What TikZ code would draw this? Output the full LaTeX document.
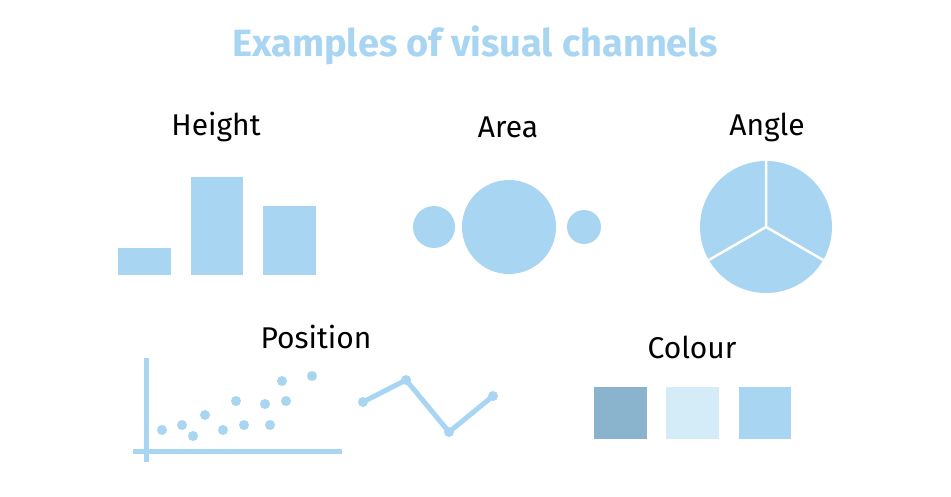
\documentclass[tikz,border=0pt]{standalone}
\usepackage{fontspec}
\setmainfont{Fira Sans}
\definecolor{cb}{HTML}{A8D5F2}
\definecolor{cdark}{HTML}{8AB4CE}
\definecolor{clight}{HTML}{D4ECF8}
\begin{document}
\begin{tikzpicture}[x=1pt,y=-1pt,
  lbl/.style={font=\fontsize{30}{32}\selectfont,text=black},
  dot/.style={circle,fill=cb,inner sep=0,minimum size=10pt}]
\useasboundingbox (0,0) rectangle (951,497);
\node[font=\fontsize{38}{40}\selectfont\bfseries,text=cb] (title) at (475,45) {Examples of visual channels};
\node[lbl] (h) at (216,127) {Height};
\node[lbl] (a) at (508,127) {Area};
\node[lbl] (an) at (767,127) {Angle};
\node[lbl] (p) at (316,337) {Position};
\node[lbl] (c) at (692,347) {Colour};
\fill[cb] (118,248) rectangle (171,275);
\fill[cb] (191,177) rectangle (243,275);
\fill[cb] (263,206) rectangle (316,275);
\fill[cb] (434,227) circle (21);
\fill[cb] (509,227) circle (47);
\fill[cb] (584,227) circle (17);
\fill[cb] (766,227) circle (66);
\draw[white,line width=2.5pt] (766,227) -- ++(90:-66) (766,227) -- ++(210:-66) (766,227) -- ++(330:-66);
\draw[cb,line width=5pt] (146,358) -- (146,462) (133,451) -- (342,451);
\foreach \i/\x/\y in {1/162/430,2/182/425,3/193/436,4/205/415,5/223/430,6/236/401,7/244/425,8/265/404,9/270/425,10/282/381,11/286/401,12/312/376}
  \node[dot] (d\i) at (\x,\y) {};
\node[dot] (l1) at (363,402) {};
\node[dot] (l2) at (406,380) {};
\node[dot] (l3) at (449,432) {};
\node[dot] (l4) at (493,396) {};
\draw[cb,line width=5pt] (l1.center) -- (l2.center) -- (l3.center) -- (l4.center);
\fill[cdark] (594,387) rectangle (647,439);
\fill[clight] (666,387) rectangle (719,439);
\fill[cb] (739,387) rectangle (791,439);
\end{tikzpicture}
\end{document}
